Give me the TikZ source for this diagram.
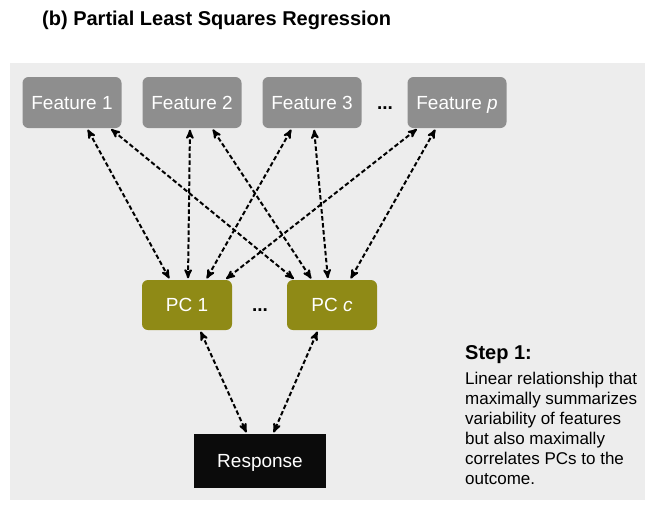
\documentclass[tikz,border=0pt]{standalone}
\usepackage{fontspec}
\setmainfont{Liberation Sans}
\usepackage{tikz}
\usetikzlibrary{arrows}
\definecolor{featgray}{HTML}{8E8E8E}
\definecolor{pcolive}{HTML}{8F8A16}
\definecolor{panelgray}{HTML}{EDEDED}
\definecolor{respblack}{HTML}{0B0B0B}

\begin{document}
\begin{tikzpicture}[<->,>=stealth',x=1pt,y=-1pt,node distance=120pt]
  \tikzstyle{feature}=[fill=featgray,text=white,rounded corners=6pt,minimum width=99pt,
                       minimum height=51pt,font=\fontsize{19}{22}\selectfont,
                       text height=13.6pt,text depth=0pt]
  \tikzstyle{pc}=[feature,fill=pcolive,minimum width=90pt,minimum height=50pt]
  \tikzstyle{response}=[feature,fill=respblack,rounded corners=0pt,minimum width=132pt,
                        minimum height=54pt]
  \tikzstyle{etc}=[font=\fontsize{19}{22}\selectfont\bfseries,inner sep=0pt]
  \tikzstyle{every edge}=[draw,dash pattern=on 4.5pt off 2.5pt,line width=2pt,
                          shorten >=1.5pt,shorten <=1.5pt]

  \useasboundingbox (0,0) rectangle (652,504);
  \fill[panelgray] (10,63) rectangle (645,500);

  \node[anchor=base west,inner sep=0pt,font=\fontsize{20}{24}\selectfont\bfseries] (title)
       at (42,25) {(b) Partial Least Squares Regression};

  \node[feature] (f1) at (72,102.5) {Feature 1};
  \node[feature] (f2) [right of=f1] {Feature 2};
  \node[feature] (f3) [right of=f2] {Feature 3};
  \node[etc]     (fdots) at (385,108) {...};
  \node[feature] (fp) [right of=f3,node distance=145pt] {Feature \textit{p}};

  \node[pc]  (pc1) at (187,305) {PC 1};
  \node[etc] (pcdots) at (260,310) {...};
  \node[pc]  (pcc) [right of=pc1,node distance=145pt] {PC \textit{c}};

  \node[response] (resp) at (260,461) {Response};

  \node[anchor=base west,inner sep=0pt,font=\fontsize{20}{24}\selectfont\bfseries] (step)
       at (465,359) {Step 1:};
  \node[anchor=north west,align=left,inner sep=0pt,font=\fontsize{17}{20}\selectfont]
       (desc) at (465,371.5)
       {Linear relationship that\\maximally summarizes\\variability of features\\
        but also maximally\\correlates PCs to the\\outcome.};

  \path ([xshift=15pt]f1.south)  edge ([xshift=-17pt]pc1.north)
        ([xshift=38pt]f1.south)  edge ([xshift=-37pt]pcc.north)
        ([xshift=-2pt]f2.south)  edge ([xshift=1pt]pc1.north)
        ([xshift=20pt]f2.south)  edge ([xshift=-20pt]pcc.north)
        ([xshift=-20pt]f3.south) edge ([xshift=19pt]pc1.north)
        ([xshift=2pt]f3.south)   edge ([xshift=-4pt]pcc.north)
        ([xshift=-39pt]fp.south) edge ([xshift=38pt]pc1.north)
        ([xshift=-21pt]fp.south) edge ([xshift=18pt]pcc.north)
        ([xshift=13pt]pc1.south) edge ([xshift=-13pt]resp.north)
        ([xshift=-14pt]pcc.south) edge ([xshift=13pt]resp.north);
\end{tikzpicture}
\end{document}
